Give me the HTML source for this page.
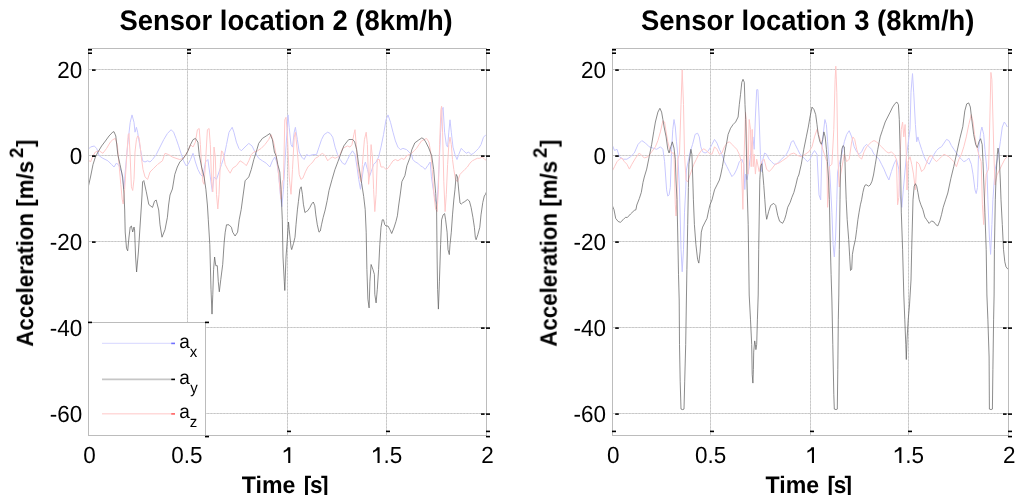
<!DOCTYPE html>
<html><head><meta charset="utf-8"><style>
html,body{margin:0;padding:0;background:#fff;}
body{width:1024px;height:504px;overflow:hidden;position:relative;}
svg{position:absolute;left:0;top:0;font-family:"Liberation Sans",sans-serif;text-rendering:geometricPrecision;will-change:transform;}
</style></head><body>
<svg width="1024" height="504" viewBox="0 0 1024 504">
<defs><clipPath id="clx"><rect x="0" y="0" width="1024" height="494.5"/></clipPath></defs>
<clipPath id="cl"><rect x="88" y="48" width="399" height="388"/></clipPath>
<path d="M187.5 49V435 M287.5 49V435 M386.5 49V435 M89 69.5H486 M89 155.5H486 M89 241.5H486 M89 327.5H486 M89 413.5H486" stroke="#d9d9d9" stroke-width="1" fill="none"/>
<path d="M187.5 49V435 M287.5 49V435 M386.5 49V435 M89 69.5H486 M89 155.5H486 M89 241.5H486 M89 327.5H486 M89 413.5H486" stroke="#c6c6c6" stroke-width="1" stroke-dasharray="1.6 1.6" fill="none"/>
<g clip-path="url(#cl)" fill="none" stroke-width="1" stroke-linejoin="round">
<polyline points="88,149.6 90.5,147 94.2,146 96.7,148.4 99.2,155.8 102.9,158.3 107.9,160.8 111.6,164.5 114,167 116.5,163 119,165.7 121.5,172 124,189 125.2,172 127.7,144.6 130.2,122.3 132,114.9 134,122.3 135,132.2 136.4,127.3 137.6,132.2 140,147 142.6,160.8 145,162 147.6,160.8 150,162 152.5,159.5 156.2,154.6 160,147 163.7,139.7 167.4,133.5 171.1,129.7 173.6,132.2 176,138.4 178.6,145.9 181,153.3 183.5,160.8 186,165.7 188,164.5 190.5,159.5 193,153.3 195.4,162 197.9,169.4 200.4,174.4 202.9,176.9 205.4,162 207.9,159.5 210.3,176.9 212.3,191.8 214,176.9 216.5,179.4 219,172 221.5,164.5 224,157 226.5,144.6 229,132.2 232.2,127.3 233.9,132.2 236.4,142.1 238.9,148.4 241.3,150.8 245,147 248.8,143.4 252,145.9 255,152 258.7,158.3 262.4,160.8 266.2,163.2 269.9,167 272.4,160.8 274.8,157 276.8,162 278.6,174.4 280.3,194.3 281.8,206.7 283.5,189.3 285.3,157 287.3,127.3 288,114.9 289.2,127.3 291,144.6 292.5,147.1 294.2,132.2 295.4,127.3 297.4,139.7 299.2,152 301.6,157 304.1,159.5 306.6,154.6 309.1,155.8 312.8,154.6 316.5,154.6 319,147.1 321.5,139.7 324,134.7 327.7,132.2 330.2,133.5 332.7,137.2 335.1,147.1 337.6,154.6 340.1,159.5 342.6,163.2 345.1,164.5 347.6,159.5 350,154.6 352.5,150.8 355,154.6 357,167 358.7,179.4 360.5,189.3 361.9,179.4 363.7,167 365.4,162 367.4,169.4 369.4,176.9 371.1,171.9 373.6,164.5 376.1,162 378.6,157 381,147.1 383.5,134.7 386,119.8 388,114.9 390.5,122.3 393,132.2 395.4,140.9 397.9,147.1 400.4,149.6 402.9,148.4 406.6,149.6 409.1,152 411.6,154.6 412.8,159.5 415.3,162 417.8,163.2 420.3,165.7 422.7,167 425.2,169.4 427.7,165.7 430.2,162 431.4,176.9 433.2,189.3 435.1,199.2 437.1,204.2 438.9,169.4 440.6,132.2 442.1,109.9 443.1,107.4 444.6,132.2 446.3,144.6 447.6,147.1 448.8,132.2 450,119.8 451.3,132.2 453,147.1 455,154.6 457,159.5 458.7,154.6 461.2,148.4 463.7,150.8 466.2,153.3 468.6,152 471.1,154.6 473.6,153.3 476.1,150.8 478.6,148.4 481,144.6 483.5,137.2 486,134.7" stroke="#c8c8ff"/>
<polyline points="88,159.5 90.5,162 93,155.8 95.4,152 99.2,150.8 102.9,153.3 106.6,148.4 110.3,142.1 112.8,139.7 115.3,138.4 117.3,144.6 119,164.5 120.8,184.3 122.2,199.2 123.2,204 124.7,189.3 126.5,159.5 128.2,134.7 129,133.5 130.2,157 131.4,186.8 132.7,190.5 134,179.4 135,152 136.4,139.7 137.6,136 138.9,137.2 140,144.6 141.3,157 143,169.4 145,176.9 147.6,179.4 150,172 153.8,168.2 157.5,164.5 162.4,160.8 165,153.3 168.6,154.6 172.4,157 176,158.3 179.8,159.5 183.5,158.3 188,150.8 190.5,144.6 193,147 195.4,142.1 197.4,129.7 199.2,128.5 200.4,144.6 201.6,167 202.9,181.8 204.1,184.3 205.4,164.5 207.4,129.7 209.1,128.5 210.3,144.6 211.6,181.8 212.8,191.8 214,147 215.3,157 216.5,194.3 217.8,209 219,194.3 220.3,164.5 221.5,150.8 222.7,152 224,157 225.2,164.5 227.7,169.4 230.2,173.2 232.7,168.2 236.4,165.7 240.1,160.8 243.8,163.2 246.3,165.7 248.8,160.8 251.3,154.6 253.8,152 257.5,150.8 261.2,148.4 264.9,144.6 268.6,139.7 271.1,134.7 273.6,142.1 276.1,154.6 277.8,167 279.3,181.8 281,199.2 282.3,181.8 283.5,179.4 284.8,119.8 286,117.3 287.3,132.2 289.2,176.9 291,194.3 292.5,169.4 294.2,137.2 295.4,132.2 297.4,152 299.2,174.4 300.9,179.4 302.9,178.1 305.4,171.9 307.9,167 310.3,164.5 312.8,162 315.3,158.3 317.8,157 320.3,154.6 322.7,153.3 325.2,155.8 327.7,160.8 330.2,158.3 332.7,157 335.1,158.3 337.6,157 340.1,154.6 342.6,148.4 345.1,147.1 347.6,145.9 350,147.1 352,144.6 353.8,134.7 355,129.7 356.2,144.6 357.5,164.5 359.5,176.9 361.2,181.8 362.4,164.5 364.4,139.7 366.2,132.2 367.4,144.6 368.6,184.3 369.9,171.9 371.1,144.6 372.4,157 373.6,189.3 374.8,211.6 376.1,194.3 377.3,159.5 379.3,159.5 381,167 383.5,167 386,169.4 388,168.2 390.5,164.5 393,160.8 395.4,159.5 397.9,160.8 401.6,158.3 404.1,159.5 406.6,155.8 409.1,154.6 411.6,153.3 414.1,150.8 416.5,148.4 419,144.6 421.5,140.9 424,139.7 426.5,138.4 428.9,142.1 430.7,152 432.2,169.4 433.9,194.3 435.6,209.1 437.1,211.6 438.4,189.3 439.6,144.6 440.9,109.9 441.6,106.2 442.6,132.2 443.8,181.8 445.1,211.6 446.3,194.3 447.6,164.5 448.8,144.6 450,137.2 451.3,144.6 452.5,159.5 453.8,169.4 455.5,179.4 457.5,181.8 460,174.4 462.4,171.9 464.9,169.4 467.4,167 469.9,163.2 472.4,160.8 474.8,159.5 477.3,158.3 479.8,158.3 482.3,157 484.8,159.5 487.3,160.8" stroke="#ffc8c8"/>
<polyline points="88,188 90.5,177 93,164.5 95.4,157 98,152 101.6,146 105.4,141 109,136 112.8,132 114,131.7 115.8,136 117.8,154.5 120,164.5 122.7,177 124,194 124.7,210 125.2,232 126.5,248.3 127.7,250.8 129,237 130.2,227 131.4,226 132.7,232 134,227 134.6,230 135.6,257 136.6,272 138.4,252 140,227 141.3,207 142,195 142.6,181.8 143.8,180.6 146.3,191.8 148.8,204.5 152.5,207.4 154.5,201.2 156.2,200 158.7,210 160,224.8 162,237.2 165,229.7 167.4,217.3 168.6,205 170,195 172.4,189 174.8,174.4 177.3,167 179.8,162 182.3,159.5 186,154.6 188,150.8 190.5,144.6 193,139.7 195.4,138.4 197.9,142.1 199.2,154.6 201.6,167 204.1,176.9 205.9,189.3 207.4,205 208.3,219.8 209.8,244.6 211,289.3 212,314.1 212.8,294.3 213.6,269.4 214.6,257 215.8,265.7 217.3,265.7 218.3,281.8 219.3,291.8 220.8,279.4 222.7,264.5 224.2,242.1 225.2,232.2 226.5,224.8 229,224.8 231.4,227.3 232.7,232.2 235.1,236 237.6,232.2 239.2,219.8 241.2,209.5 243,196 245.1,180.8 248.8,176.9 251.3,169.4 253.8,159.5 256.2,152 258.7,143.4 262.4,138.4 266.2,136 269.9,133.5 272.4,139.7 274.4,152 276.1,155.8 277.8,164.5 279.8,172 281,189.3 282.3,219.8 283,257 284.3,281.8 284.8,290.5 286,257 287.3,239.7 288.5,222 289.2,229.7 291,247.1 291.7,249.6 293.5,243.4 295,237.2 296,224.8 297.4,209.9 298.4,201.7 299.9,189.3 301.2,186.8 302.4,194.3 303.4,204.2 304.9,212.5 306.6,211.4 307.9,210.5 309.8,207.6 311.6,204 313.3,202 314.8,205.8 315.8,214.9 317.3,224.8 319,232.2 320.3,231 321.5,224.8 323.2,217.3 325.2,209.9 327.2,200.5 329,190.5 332,179.6 334.9,169.7 337.9,161.7 340.8,153.8 343.8,145.9 346.8,141.9 348.8,139.5 352.7,139.5 354.7,141.9 356.7,149.8 358.7,165 361.7,183.6 363.7,196.5 365.2,209.4 366.2,232.2 366.9,269.4 367.9,299.2 369.1,307.9 369.9,281.8 371.1,264.5 372.9,269.4 374.4,274.4 374.8,294.3 376.1,302.9 377.3,289.3 378.6,269.4 379.8,244.6 381,227.3 382.3,219.8 383.5,219.8 384.8,224.8 386,226 388,226 390,229.7 391.7,233.5 393.9,228 395.9,221.7 397.4,215.8 398.6,206 400.3,194 401.9,181.6 404.9,175.6 406.9,165.7 409.9,157.8 411.8,149.8 414.8,142.9 418.8,139.9 421.8,137.9 423.7,138.9 425.7,141.9 428.7,147.9 431.7,155.8 433.7,169.7 435.7,193.5 436.6,209.4 437.1,257 437.6,289.3 438.4,309.1 439.4,281.8 440.6,244.6 441.6,219.8 443.1,214.9 444.6,213.6 445.6,219.8 447.1,232.2 448,249.6 449.3,254.6 450,244.6 451.3,232.2 452.5,214.9 453.8,200 455,189.3 456.2,174.4 457.5,176.9 458.7,190 460,203 461.2,204.2 462.4,203 464.9,201.5 467.4,199.5 469.4,201 471.1,207.4 472.9,217.3 474.4,227.3 475.3,237.2 476.1,239.7 477.8,234.7 479.8,227.3 481,214.9 482.8,202.4 484.3,196 485.5,194.3 486.5,191.8" stroke="#666" stroke-width="0.75"/>
</g>
<rect x="88.5" y="48.5" width="398" height="387" fill="none" stroke="#bcbcbc" stroke-width="1"/>
<g fill="#000"><rect x="88" y="49" width="4" height="1.6"/><rect x="88" y="52.4" width="4" height="1.6"/><rect x="88" y="430.6" width="4" height="1.6"/><rect x="187" y="49" width="4" height="1.6"/><rect x="187" y="52.4" width="4" height="1.6"/><rect x="187" y="430.6" width="4" height="1.6"/><rect x="287" y="49" width="4" height="1.6"/><rect x="287" y="52.4" width="4" height="1.6"/><rect x="287" y="430.6" width="4" height="1.6"/><rect x="386" y="49" width="4" height="1.6"/><rect x="386" y="52.4" width="4" height="1.6"/><rect x="386" y="430.6" width="4" height="1.6"/><rect x="486" y="49" width="4" height="1.6"/><rect x="486" y="52.4" width="4" height="1.6"/><rect x="486" y="430.6" width="4" height="1.6"/><rect x="486" y="435.8" width="4" height="1.6"/><rect x="92" y="69.3" width="3.6" height="1.6"/><rect x="481" y="69.3" width="3.6" height="1.6"/><rect x="486" y="69.3" width="4" height="1.6"/><rect x="92" y="155.3" width="3.6" height="1.6"/><rect x="481" y="155.3" width="3.6" height="1.6"/><rect x="486" y="155.3" width="4" height="1.6"/><rect x="92" y="241.3" width="3.6" height="1.6"/><rect x="481" y="241.3" width="3.6" height="1.6"/><rect x="486" y="241.3" width="4" height="1.6"/><rect x="92" y="327.3" width="3.6" height="1.6"/><rect x="481" y="327.3" width="3.6" height="1.6"/><rect x="486" y="327.3" width="4" height="1.6"/><rect x="92" y="413.3" width="3.6" height="1.6"/><rect x="481" y="413.3" width="3.6" height="1.6"/><rect x="486" y="413.3" width="4" height="1.6"/></g>
<rect x="88.5" y="322.5" width="117" height="113" fill="#fff" stroke="#bcbcbc" stroke-width="1"/>
<g fill="#000"><rect x="88" y="321.6" width="4" height="1.6"/><rect x="205" y="321.6" width="4" height="1.6"/><rect x="205" y="435.8" width="4" height="1.6"/></g>
<path d="M102 343.4H171" stroke="#dedeff" stroke-width="1.4"/>
<path d="M102 379.4H171" stroke="#c6c6c6" stroke-width="1.8"/>
<path d="M102 413.8H171" stroke="#ffdada" stroke-width="1.4"/>
<rect x="171.2" y="342.6" width="3.8" height="1.6" fill="#7070ff"/>
<rect x="171.2" y="378.6" width="3.8" height="1.6" fill="#000"/>
<rect x="171.2" y="413.1" width="3.8" height="1.6" fill="#ff6060"/>
<text transform="translate(179.3,347.8) scale(1,1.03)" font-size="19">a</text><text transform="translate(189.7,356.7) scale(1,1.03)" font-size="15">x</text>
<text transform="translate(179.3,383.8) scale(1,1.03)" font-size="19">a</text><text transform="translate(190.3,392.9) scale(1,1.03)" font-size="15">y</text>
<text transform="translate(179.3,418.1) scale(1,1.03)" font-size="19">a</text><text transform="translate(189.8,426.7) scale(1,1.03)" font-size="15">z</text>
<clipPath id="cr"><rect x="612" y="48" width="397" height="388"/></clipPath>
<path d="M710.5 49V435 M810.5 49V435 M908.5 49V435 M613 69.5H1008 M613 155.5H1008 M613 241.5H1008 M613 327.5H1008 M613 413.5H1008" stroke="#d9d9d9" stroke-width="1" fill="none"/>
<path d="M710.5 49V435 M810.5 49V435 M908.5 49V435 M613 69.5H1008 M613 155.5H1008 M613 241.5H1008 M613 327.5H1008 M613 413.5H1008" stroke="#c6c6c6" stroke-width="1" stroke-dasharray="1.6 1.6" fill="none"/>
<g clip-path="url(#cr)" fill="none" stroke-width="1" stroke-linejoin="round">
<polyline points="612,144.3 614.5,150.5 617,149.3 619.4,156.7 623.2,159.2 626.9,159.2 630.6,156.7 634.3,153 638.1,144.3 641.8,140.6 645.5,143.1 649.2,146.8 652.9,148.1 656.7,149.3 660.4,146.8 662.9,149.3 664.6,161.7 666.6,189.9 667.8,196.1 669.1,194.9 670.3,187.4 671.6,149.3 672.8,129.4 674,119.5 675.3,127 676.5,141.8 677.8,154.3 679.5,190 681,249.4 682.2,271.8 683.5,249.4 684.5,212.2 685.7,189.9 686.4,170 690.2,151.8 692.6,144.3 695.1,134.4 697.6,133.2 699.3,136.9 700.8,146.8 702.6,151.8 705.1,153 707.5,151.8 710,148.1 712,144.3 714.5,139.4 717,143.1 719.4,149.3 721.9,154.3 724.4,161.7 726.9,166.7 729.4,171.6 731.9,176.6 734.3,174.1 736.8,169.1 739.3,161.7 741.8,159.2 743.8,164.2 744.8,189.5 745.5,174.1 747,180 749.2,166.7 751.7,144.3 752.9,136.9 754.2,149.3 755.4,117 756.7,89.7 757.9,89.7 759.1,117 760.4,154.3 761.6,171.6 762.9,159.2 764.6,153 766.6,154.3 769.1,159.2 771.6,161.7 774,164.2 776.5,164.2 779,161.7 781.5,159.2 784,156.7 786.4,154.3 788.9,149.3 791.4,141.8 793.4,140.6 795.1,144.3 797.6,149.3 800.1,154.3 802.6,156.7 805.1,159.2 807.5,161.7 810,159.2 812,154.3 814.5,150.5 817,154.3 819,194.9 820.7,199.8 821.9,149.3 823.2,134.4 824.9,119.5 826.4,124.5 827.6,141.8 828.9,159.2 829.9,174.1 831.9,212.2 833.1,244.5 834.3,256.9 835.6,237 836.8,199.8 837.6,172 839.3,164.2 841.8,154.3 844.3,141.8 846.7,134.4 849.2,130.7 851.7,136.9 854.2,146.8 856.7,151.8 859.1,154.3 861.6,151.8 864.1,146.8 866.6,144.3 869.1,146.8 871.6,149.3 874,154.3 876.5,156.7 879,159.2 881.5,164.2 884,169.1 886.4,175 888.9,180 891.4,171.6 893.9,164.2 896.4,159.2 898.8,169.1 900.1,194.9 901.8,207.3 903.3,189.9 906,160 910,129.4 911,92.2 912.5,73.6 913.7,92.2 915.4,124.5 916.7,141.8 917.9,136.9 919.2,141.8 921.6,149.3 924.1,156.7 926.6,161.7 929.1,164.2 931.6,159.2 934.1,154.3 936.5,150.5 939,148.1 941.5,146.8 944,143.1 946.5,139.4 948.9,140.6 951.4,145.6 953.9,149.3 956.4,153 958.9,156.7 961.4,159.2 963.8,161.7 966.3,160.5 968.8,158 971.3,164.2 973,174.1 975,189.9 976.2,193.6 977.5,187.4 978.7,149.3 980.7,131.9 981.9,127 983.7,134.4 984.9,149.3 986.9,169.1 987.9,199.8 989.4,237 990.6,254.4 991.9,224.6 992.9,199.8 995,170 998.6,154.3 1000.3,141.8 1002.3,127 1004.3,122 1006,124.5 1007.3,127" stroke="#c8c8ff"/>
<polyline points="612,171.6 614.5,166.7 617,161.7 619.4,159.2 621.9,158 624.4,161.7 626.9,164.2 629.4,169.1 631.9,164.2 635.6,158 639.3,153 641.8,155.5 644.3,158 648,156.7 651.7,151.8 655.4,146.8 657.9,140.6 660.4,131.9 662.9,120.8 664.6,122 666.1,131.9 667.8,141.8 669.6,149.3 671.6,153 674,153 675.3,204.8 676,216 677,199.8 677.8,159.2 679.5,154.3 681,104.6 682.2,69.9 683.5,104.6 684.5,154.3 686,180 687.7,182 690,175 693.9,164.2 696.4,159.2 698.8,154.3 701.3,150.5 703.8,148.8 706.3,150.5 708.8,153 712,154.3 714.5,146.8 717,149.3 719.4,154.3 721.9,153 724.4,146.8 726.9,143.1 729.4,141.8 731.9,144.3 734.3,146.8 736.8,149.3 739.3,154.3 741.3,161.7 742.9,209.4 743.5,174.1 745.5,112.1 746.2,119.5 747.2,154.3 748,174.1 749.2,119.5 750.5,129.4 751.2,166.7 752.2,129.4 753.2,166.7 754.2,154.3 755.4,174.1 756.7,159.2 759.1,171.6 761.6,161.7 764.1,159.2 766.6,169.1 769.1,171.6 771.6,169.1 775.3,164.2 779,163 782.7,160.5 786.4,158 790.2,154.3 793.9,153 797.6,155.5 801.3,156.7 805.1,154.3 808.8,151.8 812,146.8 814.5,136.9 817,129.4 819.4,136.9 821.9,146.8 824.4,154.3 826.9,161.7 827.6,207.3 828.4,194.9 829.4,166.7 831.9,164.2 833.8,129.4 835.1,79.8 835.8,66.2 836.8,92.2 837.8,154.3 838.8,180 839.3,187 840.5,175 844.3,154.3 846.7,161.7 849.2,159.2 851.7,141.8 852.9,136.9 854.7,139.4 856.7,149.3 859.1,156.7 861.6,159.2 864.1,151.8 866.6,146.8 869.1,144.3 871.6,141.8 874,140.6 876.5,141.8 879,144.3 881.5,146.8 884,149.3 886.4,151.8 888.9,153 891.4,151.8 893.9,154.3 896.4,159.2 897.6,204.8 898.8,197.3 899.5,169.1 901.3,129.4 902.6,122 903.8,136.9 905.1,124.5 906.3,154.3 907,190 908,161.7 910,156.7 911.7,164.2 913.5,174.1 915.4,189.9 916.7,161.7 919.2,164.2 921.6,171.6 924.1,169.1 926.6,163 929.1,156.7 931.6,155.5 934.1,159.2 936.5,161.7 939,159.2 941.5,156.7 944,154.3 946.5,155.5 948.9,156.7 951.4,159.2 953.9,161.7 956.4,166.7 958.9,159.2 961.4,154.3 963.8,146.8 966.3,136.9 968.8,124.5 971.3,114.6 973,122 974.5,134.4 976.2,144.3 978.7,154.3 981.2,161.7 982.4,204.8 983.7,224.6 984.4,199.8 986.2,174.1 988.6,169.1 989.9,117 990.9,72.4 991.9,79.8 992.9,117 993.9,154.3 995,185 997,175 1002.3,164.2 1004.8,159.2 1007.3,156.7" stroke="#ffc8c8"/>
<polyline points="612,204.8 614,209.7 615.7,218.4 618.2,221.5 620.4,222.3 623,219.8 625.5,217.3 627.3,217.5 630.5,214 634.3,210.4 635.9,209.8 636.8,205 639.3,198.6 641.3,192.4 643,182.4 644.3,177 646.7,169.1 649.2,156.7 651.7,144.3 653.7,131.9 655.4,122 657.9,112.1 659.9,108.3 661.6,112.1 662.9,119.5 664.1,127 666.1,136.9 667.8,149.3 669.1,153 670.8,146.8 672.3,141.8 674,148.1 675.3,159.2 676,180 677,199.8 677.8,237 678.5,274.3 679.2,300 679.5,344.6 680.2,381.8 681,409.1 682.7,409.6 684,409.1 684.7,381.8 685.7,344.6 686.4,300 686.9,269.3 687.7,224.6 688.4,187.4 688.9,164.2 690.9,149.3 691.9,154.3 692.8,180 693.4,199.8 694.4,224.6 695.9,244.5 697.6,259.4 698.8,263.1 700.1,251.9 701.3,232.1 702.6,227.1 705.1,222.1 707,218.4 708.8,209.7 710,204.8 712,199.8 714.5,189.9 717,184.9 719.4,180 720.7,175 722.4,166.7 724.4,154.3 726.4,144.3 728.1,134.4 730.6,128.2 733.1,124.5 735.6,122 738.1,117 739.3,104.6 740.5,94.7 741.8,82.3 743,79.3 744.3,82.3 745,104.6 745.7,119.5 746.4,150 746.9,179.6 748.2,224.6 749.2,295 750.5,319.8 751.7,344.6 752.2,374.4 752.9,383.1 753.4,369.4 753.7,352.1 754.7,340.9 755.4,344.6 755.9,349.6 756.7,344.6 757.4,319.8 758.2,295 758.7,249.4 759.8,179.6 760.8,165.7 761.8,163.7 762.8,173.7 763.8,185.6 764.8,199.4 765.8,213.3 766.7,219.3 768.7,211.3 770.7,205.4 773.7,203.4 775.7,205.4 777.7,215.3 779.6,221.3 782.6,223.3 784.5,219.7 786,214.7 787.7,207.3 790.2,202.3 791.9,197.3 793.9,192.4 795.9,184.9 797.6,177.5 798.8,175 801.3,164.2 803.8,149.3 806.3,136.9 808.3,127 810,117 812,107.1 814,109.6 815.7,114.6 817,124.5 818.2,134.4 819.9,141.8 821.4,144.3 822.7,139.4 823.9,131.9 825.2,136.9 826.4,149.3 827.4,161.7 828.6,180 829.4,199.8 830.1,237 831.1,274.3 831.9,300 832.8,344.6 833.8,394.3 834.3,409.1 836.1,409.6 837.3,409.1 837.8,369.4 838.3,319.8 838.8,295 839.3,249.4 840,199.8 840.5,164.2 841.8,149.3 843,145.6 844.3,146.8 845,161.7 845.5,180 846.2,199.8 847.2,219.7 848.7,239.5 849.7,256.9 850.5,270.5 851.7,269.3 852.4,254.4 853.7,247 855.4,239.5 856.7,229.6 857.9,219.7 859.1,212.2 860.4,204.8 861.6,199.8 862.9,192.4 864.1,187.4 865.3,184.9 866.6,184.9 868.6,186.2 870.3,184.9 872,181.2 873.5,175 875.3,164.2 877.8,149.3 880.2,136.9 882.7,129.4 885.2,122 887.7,117 890.2,112.1 892.6,107.1 895.1,103.4 896.9,102.1 898.4,104.6 899.3,119.5 900.1,149.3 900.8,180 901.3,212.2 902.6,249.4 903.8,295 904.8,319.8 905.8,344.6 906.3,359.5 907,339.7 908.2,320 909.5,305 911,280 911.7,249.4 913,199.8 914.2,186.2 915.4,183.7 916.7,186.2 917.9,192.4 919.2,199.8 920.9,204.8 922.9,209.7 924.9,217.2 926.6,219.7 929.1,223.4 931.6,220.9 934.1,222.1 935.8,224.6 937.8,225.9 939.8,220.9 941.5,214.7 943.2,207.3 945.6,199.8 947.8,193 950.9,178.3 953.8,166.4 956.8,152.5 959.8,138.7 962.8,126.7 964.8,110.9 966.7,103.9 968.7,102.9 970.3,106.9 971.7,118.8 973.7,134.7 975.7,144.6 977.3,147.6 979,141.6 980.6,138.7 982.2,144.6 983,161.7 983.7,180 984.9,212.2 986.2,249.4 986.9,295 987.9,319.8 989.1,357 989.4,409.1 991.1,409.6 992.4,409.1 992.9,369.4 993.6,319.8 994.1,295 994.4,249.4 995.3,199.8 996.1,175 997.3,154.3 998,148.1 999.1,154.3 1000.3,180 1001,199.8 1002.3,224.6 1003.5,249.4 1004.8,261.8 1006,266.8 1008,269.3" stroke="#666" stroke-width="0.75"/>
</g>
<rect x="612.5" y="48.5" width="396" height="387" fill="none" stroke="#bcbcbc" stroke-width="1"/>
<g fill="#000"><rect x="612" y="49" width="4" height="1.6"/><rect x="612" y="52.4" width="4" height="1.6"/><rect x="612" y="430.6" width="4" height="1.6"/><rect x="710" y="49" width="4" height="1.6"/><rect x="710" y="52.4" width="4" height="1.6"/><rect x="710" y="430.6" width="4" height="1.6"/><rect x="810" y="49" width="4" height="1.6"/><rect x="810" y="52.4" width="4" height="1.6"/><rect x="810" y="430.6" width="4" height="1.6"/><rect x="908" y="49" width="4" height="1.6"/><rect x="908" y="52.4" width="4" height="1.6"/><rect x="908" y="430.6" width="4" height="1.6"/><rect x="1008" y="49" width="4" height="1.6"/><rect x="1008" y="52.4" width="4" height="1.6"/><rect x="1008" y="430.6" width="4" height="1.6"/><rect x="1008" y="435.8" width="4" height="1.6"/><rect x="615.2" y="69.3" width="3.6" height="1.6"/><rect x="1003" y="69.3" width="3.6" height="1.6"/><rect x="1008" y="69.3" width="4" height="1.6"/><rect x="615.2" y="155.3" width="3.6" height="1.6"/><rect x="1003" y="155.3" width="3.6" height="1.6"/><rect x="1008" y="155.3" width="4" height="1.6"/><rect x="615.2" y="241.3" width="3.6" height="1.6"/><rect x="1003" y="241.3" width="3.6" height="1.6"/><rect x="1008" y="241.3" width="4" height="1.6"/><rect x="615.2" y="327.3" width="3.6" height="1.6"/><rect x="1003" y="327.3" width="3.6" height="1.6"/><rect x="1008" y="327.3" width="4" height="1.6"/><rect x="615.2" y="413.3" width="3.6" height="1.6"/><rect x="1003" y="413.3" width="3.6" height="1.6"/><rect x="1008" y="413.3" width="4" height="1.6"/></g>
<text transform="translate(119.4,29.7) scale(1,1.03)" font-size="27.4" font-weight="bold">Sensor location 2 (8km/h)</text>
<text transform="translate(82.2,77.6) scale(1,1.04)" font-size="22.5" text-anchor="end">20</text>
<text transform="translate(82.2,163.6) scale(1,1.04)" font-size="22.5" text-anchor="end">0</text>
<text transform="translate(82.2,249.6) scale(1,1.04)" font-size="22.5" text-anchor="end">-20</text>
<text transform="translate(82.2,335.6) scale(1,1.04)" font-size="22.5" text-anchor="end">-40</text>
<text transform="translate(82.2,421.6) scale(1,1.04)" font-size="22.5" text-anchor="end">-60</text><text transform="translate(89.505,463.3) scale(1,1.04)" font-size="22.5" text-anchor="middle">0</text>
<text transform="translate(186.935,463.3) scale(1,1.04)" font-size="22.5" text-anchor="middle">0.5</text>
<text transform="translate(487.405,463.3) scale(1,1.04)" font-size="22.5" text-anchor="middle">2</text>
<path d="M290.3 447.2V463h-2.1V450.3L283.7 452.8V450.7C285.7 449.8 287.2 448.6 287.8 447.2Z" fill="#000"/>
<path d="M379.6 447.2V463h-2.1V450.3L373 452.8V450.7C375 449.8 376.5 448.6 377.1 447.2Z" fill="#000"/>
<text transform="translate(383.5,463.3) scale(1,1.04)" font-size="22.5">.5</text>
<text transform="translate(641.1,29.7) scale(1,1.03)" font-size="27.4" font-weight="bold">Sensor location 3 (8km/h)</text>
<text transform="translate(606,77.6) scale(1,1.04)" font-size="22.5" text-anchor="end">20</text>
<text transform="translate(606,163.6) scale(1,1.04)" font-size="22.5" text-anchor="end">0</text>
<text transform="translate(606,249.6) scale(1,1.04)" font-size="22.5" text-anchor="end">-20</text>
<text transform="translate(606,335.6) scale(1,1.04)" font-size="22.5" text-anchor="end">-40</text>
<text transform="translate(606,421.6) scale(1,1.04)" font-size="22.5" text-anchor="end">-60</text><text transform="translate(613.305,463.3) scale(1,1.04)" font-size="22.5" text-anchor="middle">0</text>
<text transform="translate(710.535,463.3) scale(1,1.04)" font-size="22.5" text-anchor="middle">0.5</text>
<text transform="translate(1009.3,463.3) scale(1,1.04)" font-size="22.5" text-anchor="middle">2</text>
<path d="M814 447.2V463h-2.1V450.3L807.4 452.8V450.7C809.4 449.8 810.9 448.6 811.5 447.2Z" fill="#000"/>
<path d="M901.4 447.2V463h-2.1V450.3L894.8 452.8V450.7C896.8 449.8 898.3 448.6 898.9 447.2Z" fill="#000"/>
<text transform="translate(905.3,463.3) scale(1,1.04)" font-size="22.5">.5</text>
<g clip-path="url(#clx)"><text transform="translate(241.85,492.7) scale(1.024,1.06)" font-size="22.6" font-weight="bold">Time</text><text transform="translate(303.7,492.7) scale(1,1.06)" font-size="22.6" font-weight="bold">[</text><text transform="translate(310.05,492.7) scale(1,1.06)" font-size="22.6" font-weight="bold">s</text><text transform="translate(320.9,492.7) scale(1,1.06)" font-size="22.6" font-weight="bold">]</text></g>
<g clip-path="url(#clx)"><text transform="translate(765.55,492.7) scale(1.024,1.06)" font-size="22.6" font-weight="bold">Time</text><text transform="translate(827.4,492.7) scale(1,1.06)" font-size="22.6" font-weight="bold">[</text><text transform="translate(833.75,492.7) scale(1,1.06)" font-size="22.6" font-weight="bold">s</text><text transform="translate(844.6,492.7) scale(1,1.06)" font-size="22.6" font-weight="bold">]</text></g>
<g transform="translate(33.4,346.7) rotate(-90) scale(0.991,1.05)" font-weight="bold" font-size="22.5"><text x="0" y="0">Acceleration [m/s</text><text x="190.4" y="-9.8" font-size="18.5">2</text><text x="201.6" y="0">]</text></g>
<g transform="translate(557.0,346.7) rotate(-90) scale(0.991,1.05)" font-weight="bold" font-size="22.5"><text x="0" y="0">Acceleration [m/s</text><text x="190.4" y="-9.8" font-size="18.5">2</text><text x="201.6" y="0">]</text></g>
</svg>
</body></html>
